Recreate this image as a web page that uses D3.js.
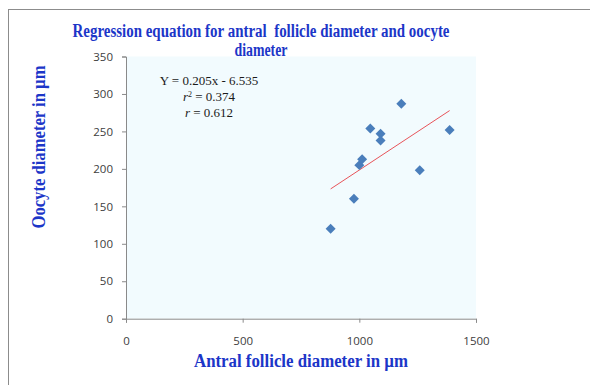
<!DOCTYPE html>
<html>
<head>
<meta charset="utf-8">
<script src="https://cdn.jsdelivr.net/npm/d3@7"></script>
<style>
  body { margin: 0; background: #fff; }
  svg { display: block; }
</style>
</head>
<body>
<figure id="chart" style="margin:0"></figure>
<script>
// follicle diameter (µm) vs oocyte diameter (µm)
const follicle = [877, 977, 1000, 1012, 1047, 1091, 1091, 1180, 1259, 1387];
const oocyte = [120, 160, 205, 213, 254, 247, 238, 287, 198, 252];
const slope = 0.205;
const intercept = -6.535;
const xTicks = [0, 500, 1000, 1500];
const yTicks = [0, 50, 100, 150, 200, 250, 300, 350];
const statLines = ["Y = 0.205x - 6.535", "r\u00B2 = 0.374", "r = 0.612"];

const width = 590, height = 385;
const plot = {left: 126, right: 476, top: 56.5, bottom: 318.7};
const titleBlue = "#1c36c8";
const titleFont = "'Liberation Serif', 'Times New Roman', serif";

const svg = d3.select("#chart").append("svg")
  .attr("width", width)
  .attr("height", height);

// outer chart frame (runs off the right and bottom edges)
svg.append("rect")
  .attr("x", 8.5).attr("y", 9.5)
  .attr("width", 600).attr("height", 400)
  .attr("fill", "#fff")
  .attr("stroke", "#8c8c8c")
  .attr("stroke-width", 1);

const x = d3.scaleLinear().domain([0, 1500]).range([plot.left, plot.right]);
const y = d3.scaleLinear().domain([0, 350]).range([plot.bottom, plot.top]);

svg.append("rect")
  .attr("x", plot.left).attr("y", plot.top)
  .attr("width", plot.right - plot.left)
  .attr("height", plot.bottom - plot.top)
  .attr("fill", "#f2fbfe");

const yAxis = svg.append("g")
  .attr("transform", "translate(" + plot.left + ",0)")
  .call(d3.axisLeft(y).tickValues(yTicks).tickFormat(d3.format("d"))
    .tickSize(4).tickPadding(9));

const xAxis = svg.append("g")
  .attr("transform", "translate(0," + plot.bottom + ")")
  .call(d3.axisBottom(x).tickValues(xTicks).tickFormat(d3.format("d"))
    .tickSize(4).tickPadding(14));

[xAxis, yAxis].forEach(ax => {
  ax.select(".domain").attr("stroke", "#8a8a8a");
  ax.selectAll(".tick line").attr("stroke", "#8a8a8a");
  ax.selectAll(".tick text")
    .attr("fill", "#404040")
    .style("font-family", "'Open Sans', 'Liberation Sans', sans-serif")
    .style("font-size", "11.5px");
});

// regression line over the range of the data
const xr = d3.extent(follicle);
svg.append("line")
  .attr("x1", x(xr[0])).attr("y1", y(slope * xr[0] + intercept))
  .attr("x2", x(xr[1])).attr("y2", y(slope * xr[1] + intercept))
  .attr("stroke", "#e8545a")
  .attr("stroke-width", 1);

const diamond = d3.symbol().type(d3.symbolSquare).size(50);
svg.selectAll("path.pt")
  .data(follicle.map((f, i) => [f, oocyte[i]]))
  .enter()
  .append("path")
  .attr("class", "pt")
  .attr("d", diamond)
  .attr("transform", d => "translate(" + x(d[0]) + "," + y(d[1]) + ") rotate(45)")
  .attr("fill", "#4a7ebb");

// equation box
const stats = svg.append("text")
  .style("font-family", "'Liberation Serif', 'Times New Roman', serif")
  .style("font-size", "13px")
  .attr("fill", "#1a1a1a")
  .attr("text-anchor", "middle");
stats.append("tspan").attr("x", 209).attr("y", 85).text(statLines[0]);
const l2 = stats.append("tspan").attr("x", 209).attr("y", 101);
l2.append("tspan").style("font-style", "italic").text("r");
l2.append("tspan").attr("dy", -4).style("font-size", "8px").text("2");
l2.append("tspan").attr("dy", 4).text(" = 0.374");
const l3 = stats.append("tspan").attr("x", 209).attr("y", 117);
l3.append("tspan").style("font-style", "italic").text("r");
l3.append("tspan").text(" = 0.612");

const title = svg.append("text")
  .attr("text-anchor", "middle")
  .attr("fill", titleBlue)
  .style("white-space", "pre")
  .style("font-family", titleFont)
  .style("font-weight", "bold")
  .style("font-size", "18px");
title.append("tspan").attr("x", 261).attr("y", 37)
  .attr("textLength", 377).attr("lengthAdjust", "spacingAndGlyphs")
  .text("Regression equation for antral  follicle diameter and oocyte");
title.append("tspan").attr("x", 261).attr("y", 56)
  .attr("textLength", 53).attr("lengthAdjust", "spacingAndGlyphs")
  .text("diameter");

svg.append("text")
  .attr("x", 301).attr("y", 367)
  .attr("text-anchor", "middle")
  .attr("textLength", 214).attr("lengthAdjust", "spacingAndGlyphs")
  .attr("fill", titleBlue)
  .style("font-family", titleFont)
  .style("font-weight", "bold")
  .style("font-size", "18px")
  .text("Antral follicle diameter in \u00B5m");

svg.append("text")
  .attr("transform", "translate(45,147) rotate(-90)")
  .attr("text-anchor", "middle")
  .attr("textLength", 163).attr("lengthAdjust", "spacingAndGlyphs")
  .attr("fill", titleBlue)
  .style("font-family", titleFont)
  .style("font-weight", "bold")
  .style("font-size", "18px")
  .text("Oocyte diameter in \u00B5m");
</script>
</body>
</html>
